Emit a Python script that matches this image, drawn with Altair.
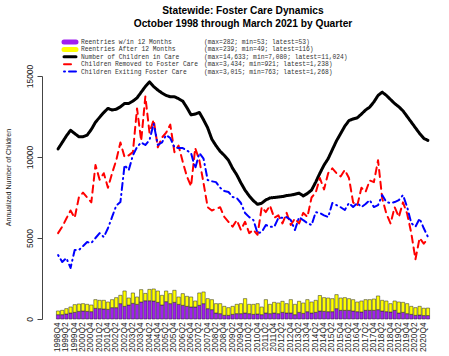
import altair as alt
import pandas as pd

# ---------------- data ----------------
quarters = []
yr, qt = 1998, 4
for _ in range(90):
    quarters.append(f"{yr}Q{qt}")
    qt += 1
    if qt > 4:
        qt = 1
        yr += 1

in_care = [10500, 10900, 11300, 11650, 11450, 11250, 11250, 11350, 11700, 12150,
           12450, 12750, 13000, 12900, 12950, 13100, 13300, 13300, 13450, 13650,
           14000, 14350, 14633, 14350, 14130, 13950, 13800, 13720, 13720, 13600,
           13450, 13050, 12600, 12650, 12750, 12300, 11800, 11100, 10700, 10350,
           10100, 9800, 9300, 8900, 8400, 7950, 7600, 7300, 7080, 7150,
           7350, 7470, 7500, 7530, 7560, 7620, 7650, 7700, 7770, 7600,
           7750, 7960, 8450, 9000, 9500, 9900, 10450, 11000, 11450, 11900,
           12250, 12350, 12420, 12650, 12900, 13080, 13400, 13800, 14000, 13800,
           13550, 13300, 13100, 12850, 12500, 12150, 11800, 11450, 11150, 11024]

removed = [5300, 5700, 6200, 6700, 6250, 7500, 7800, 7500, 7200, 9500,
           8600, 9000, 8100, 9000, 9800, 10900, 10000, 10100, 10300, 13000,
           11000, 13736, 11500, 12300, 10600, 11200, 11500, 12000, 10300, 10700,
           9700, 8800, 8200, 10550, 9800, 8400, 6900, 6700, 6800, 6900,
           6300, 6000, 5700, 6100, 5500, 6000, 5300, 5500, 5200, 6900,
           6600, 7000, 6250, 6400, 5900, 6550, 5800, 6200, 5900, 6550,
           6300, 7500, 7800, 8700, 8000, 9000, 9300, 9000, 8800, 9200,
           8700, 7200, 7000, 8100, 7850, 8550, 8450, 9800, 7450, 6500,
           5900, 6900, 6300, 7200, 6500, 5300, 3684, 5000, 4650, 4952]

exiting = [3950, 3520, 3760, 3150, 4260, 4260, 4500, 4750, 4690, 5000,
           5300, 5060, 5600, 6300, 7000, 7220, 9500, 9190, 10100, 10610,
           10900, 10740, 11040, 12060, 10740, 10900, 11350, 11170, 10600, 10550,
           10550, 10400, 10240, 9300, 10240, 9900, 8580, 8500, 8450, 8100,
           7900, 7840, 7530, 7470, 7160, 6540, 6290, 6110, 5300, 5370,
           5800, 5700, 5680, 6230, 6250, 6290, 6110, 5490, 6290, 6100,
           5920, 5800, 6600, 6540, 6400, 6290, 7160, 7030, 6900, 6730,
           7160, 6910, 7160, 6910, 7100, 7340, 6910, 7030, 7650, 7220,
           7160, 7220, 7340, 7650, 6910, 5920, 5700, 6200, 5600, 5072]

reentry_within = [268, 268, 309, 371, 412, 474, 494, 474, 453, 659,
                  639, 618, 597, 700, 700, 948, 783, 865, 968, 906,
                  1050, 1128, 1128, 1112, 1030, 865, 1071, 948, 1030, 906,
                  845, 783, 742, 742, 845, 948, 639, 577, 371, 330,
                  227, 227, 288, 330, 330, 371, 330, 288, 309, 268,
                  371, 330, 371, 330, 412, 371, 371, 268, 412, 350,
                  453, 371, 412, 494, 474, 453, 453, 639, 536, 536,
                  536, 494, 453, 433, 536, 536, 536, 577, 494, 453,
                  433, 536, 371, 412, 330, 288, 227, 247, 212, 212]

reentry_after = [227, 268, 330, 371, 474, 453, 453, 433, 412, 536,
                 515, 536, 453, 494, 618, 515, 948, 433, 639, 453,
                 762, 453, 700, 742, 700, 597, 659, 618, 742, 453,
                 721, 618, 618, 371, 762, 721, 618, 618, 577, 618,
                 556, 474, 494, 577, 618, 886, 577, 618, 639, 474,
                 824, 577, 659, 659, 680, 577, 824, 639, 680, 639,
                 742, 680, 742, 956, 845, 845, 803, 865, 762, 783,
                 721, 700, 597, 680, 659, 659, 700, 845, 659, 659,
                 515, 577, 680, 618, 618, 494, 474, 536, 453, 464]

labels = ["Reentries w/in 12 Months", "Reentries After 12 Months",
          "Number of Children in Care", "Children Removed to Foster Care",
          "Children Exiting Foster Care"]
stats = ["(max=282; min=53; latest=53)", "(max=239; min=49; latest=116)",
         "(max=14,633; min=7,080; latest=11,024)", "(max=3,434; min=921; latest=1,238)",
         "(max=3,015; min=763; latest=1,268)"]
colors = ["#A020F0", "#FFFF00", "#000000", "#FF0000", "#0000FF"]
dashes = [[1, 0], [1, 0], [1, 0], [7, 5], [1, 4, 7, 4]]
widths = [5, 5, 3, 2, 2]

# ---------------- tables ----------------
bars = pd.DataFrame({
    "quarter": quarters * 2,
    "series": [labels[0]] * 90 + [labels[1]] * 90,
    "value": reentry_within + reentry_after,
    "ord": [0] * 90 + [1] * 90,
})
line_series = {labels[2]: in_care, labels[3]: removed, labels[4]: exiting}
legend_df = pd.DataFrame({"series": labels, "stats": stats})

color_scale = alt.Scale(domain=labels, range=colors)

x_enc = alt.X("quarter:N", sort=quarters,
              scale=alt.Scale(domain=quarters, paddingInner=0.2, paddingOuter=0.1),
              axis=alt.Axis(values=quarters[::2], labelAngle=270, labelAlign="right",
                            labelBaseline="middle", ticks=False, domain=False,
                            labelPadding=3, labelOverlap=False, labelFontSize=8.3,
                            labelFont="Liberation Sans", labelColor="#222", title=None))

y_scale = alt.Scale(domain=[0, 15000], nice=False, zero=True)
y_axis = alt.Axis(values=[0, 5000, 10000, 15000], format="d", offset=14, tickSize=5,
                  grid=False, labelAngle=270, labelAlign="center", labelBaseline="bottom",
                  labelPadding=3, labelFontSize=8.5, labelFont="Liberation Sans",
                  labelColor="#222", domainColor="#444", tickColor="#444",
                  title="Annualized Number of Children", titleFontSize=7,
                  titleFont="Liberation Sans", titleFontWeight="normal",
                  titleColor="#222", titleAngle=270, titleX=-31, titleY=101)

bar_layer = alt.Chart(bars).mark_bar(stroke="#222", strokeWidth=0.5).encode(
    x=x_enc,
    y=alt.Y("value:Q", stack="zero", scale=y_scale, axis=y_axis),
    color=alt.Color("series:N", scale=color_scale, legend=None),
    order=alt.Order("ord:Q"),
)

layers = [bar_layer]
for k in (2, 3, 4):
    df = pd.DataFrame({"quarter": quarters, "value": line_series[labels[k]]})
    layers.append(
        alt.Chart(df).mark_line(color=colors[k], strokeWidth=widths[k],
                                strokeDash=dashes[k], strokeCap="round",
                                strokeJoin="round").encode(
            x=alt.X("quarter:N", sort=quarters),
            y=alt.Y("value:Q", scale=y_scale, axis=None),
        )
    )

leg_y = alt.Y("series:N", scale=alt.Scale(type="point", domain=labels,
                                          range=[-34, -4.5], padding=0), axis=None)

for k in range(5):
    layers.append(
        alt.Chart(legend_df.iloc[[k]]).mark_rule(
            color=colors[k], strokeWidth=widths[k], strokeDash=dashes[k],
            strokeCap="round").encode(
            x=alt.value(8), x2=alt.value(20), y=leg_y)
    )

layers.append(alt.Chart(legend_df).mark_text(
    align="left", baseline="middle", font="Liberation Mono", fontSize=6.3,
    color="#333").encode(x=alt.value(25), y=leg_y, text="series:N"))
layers.append(alt.Chart(legend_df).mark_text(
    align="left", baseline="middle", font="Liberation Mono", fontSize=6.3,
    color="#333").encode(x=alt.value(148), y=leg_y, text="stats:N"))

chart = alt.layer(*layers).resolve_scale(
    y="independent"
).properties(
    width=374, height=243,
    autosize=alt.AutoSizeParams(type="none"),
    padding={"left": 56, "top": 76, "right": 19, "bottom": 37},
    title=alt.TitleParams(
        text=["Statewide: Foster Care Dynamics", "October 1998 through March 2021 by Quarter"],
        font="Liberation Sans", fontSize=10.2, fontWeight="bold", color="#000",
        anchor="middle", lineHeight=12.5, offset=10),
).configure_view(stroke=None)

chart.save("out.html", embed_options={"renderer": "svg", "actions": False})
